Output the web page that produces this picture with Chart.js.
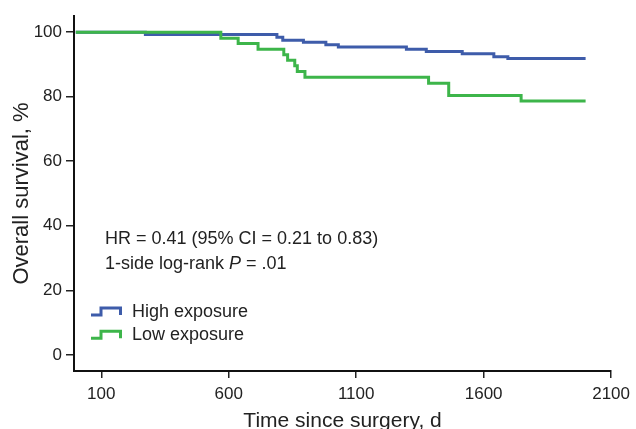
<!DOCTYPE html>
<html><head><meta charset="utf-8">
<script src="https://cdn.jsdelivr.net/npm/chart.js@4.4.1/dist/chart.umd.min.js"></script>
<style>html,body{margin:0;padding:0;background:#fff}canvas{display:block}</style>
</head><body>
<canvas id="c" width="636" height="429"></canvas>
<script>
const seriesNames = ['High exposure', 'Low exposure'];
const highTimes = [0, 273, 789, 812, 893, 981, 1030, 1297, 1375, 1516, 1640, 1695, 2000];
const highSurv  = [100, 99.3, 98.4, 97.5, 96.9, 96.1, 95.4, 94.7, 94.0, 93.3, 92.4, 91.8, 91.8];
const lowTimes  = [0, 569, 637, 715, 816, 831, 859, 869, 899, 1384, 1463, 1747, 2000];
const lowSurv   = [100, 98.1, 96.5, 94.7, 93.0, 91.3, 89.6, 87.8, 86.0, 84.2, 80.4, 78.7, 78.7];
const xTicks = [100, 600, 1100, 1600, 2100];
const yTicks = [0, 20, 40, 60, 80, 100];
const xTitle = 'Time since surgery, d';
const yTitle = 'Overall survival, %';
const annotLine1 = 'HR = 0.41 (95% CI = 0.21 to 0.83)';
const annotLine2 = ['1-side log-rank ', 'P', ' = .01'];

const FONT = '"Liberation Sans", Arial, Helvetica, sans-serif';
const TXT = '#222';
const colors = ['#3E5CAA', '#3DB54A'];
Chart.defaults.font.family = FONT;

function toPts(ts, vs) { return ts.map((t, i) => ({x: t, y: vs[i]})); }

const overlay = {
  id: 'overlay',
  afterDatasetsDraw(chart) {
    const {ctx, chartArea: a} = chart;
    ctx.save();
    ctx.fillStyle = TXT;
    ctx.textAlign = 'left';
    ctx.textBaseline = 'alphabetic';
    ctx.font = '18px ' + FONT;
    const ax = a.left + 31;
    ctx.fillText(annotLine1, ax, a.top + 228);
    let x = ax;
    const y2 = a.top + 253;
    annotLine2.forEach((s, i) => {
      ctx.font = (i === 1 ? 'italic ' : '') + '18px ' + FONT;
      ctx.fillText(s, x, y2);
      x += ctx.measureText(s).width;
    });
    // legend
    chart.data.datasets.forEach((ds, i) => {
      const base = a.top + 300.5 + i * 23.3;
      const lx = a.left + 17;
      ctx.strokeStyle = ds.borderColor;
      ctx.lineWidth = 3;
      ctx.lineJoin = 'miter';
      ctx.lineCap = 'butt';
      ctx.beginPath();
      ctx.moveTo(lx, base - 1.5);
      ctx.lineTo(lx + 10, base - 1.5);
      ctx.lineTo(lx + 10, base - 8.5);
      ctx.lineTo(lx + 29.5, base - 8.5);
      ctx.lineTo(lx + 29.5, base - 1.5);
      ctx.stroke();
      ctx.font = '18px ' + FONT;
      ctx.fillStyle = TXT;
      ctx.fillText(ds.label, a.left + 58, base);
    });
    ctx.restore();
  }
};

new Chart(document.getElementById('c'), {
  type: 'line',
  data: {
    datasets: [
      {label: seriesNames[0], data: toPts(highTimes, highSurv), borderColor: colors[0], borderWidth: 3, stepped: 'before', pointRadius: 0, fill: false, order: 1},
      {label: seriesNames[1], data: toPts(lowTimes, lowSurv), borderColor: colors[1], borderWidth: 3, stepped: 'before', pointRadius: 0, fill: false, order: 0}
    ]
  },
  options: {
    responsive: false,
    animation: false,
    devicePixelRatio: 1,
    layout: {padding: {top: 16, right: 24, bottom: 0, left: 0}},
    plugins: {legend: {display: false}, tooltip: {enabled: false}},
    scales: {
      x: {
        type: 'linear', min: -7, max: 2100,
        afterBuildTicks: s => { s.ticks = xTicks.map(v => ({value: v})); },
        afterFit: s => { s.height = 58; },
        ticks: {color: TXT, font: {size: 17}, padding: 6, autoSkip: false, maxRotation: 0, callback: v => String(v)},
        grid: {drawOnChartArea: false, drawTicks: true, tickLength: 7, tickColor: '#222', lineWidth: 1.5},
        border: {display: true, color: '#111', width: 2},
        title: {display: true, text: xTitle, color: TXT, font: {size: 21}, padding: {top: 0, bottom: -5}}
      },
      y: {
        type: 'linear', min: -5, max: 105,
        afterBuildTicks: s => { s.ticks = yTicks.map(v => ({value: v})); },
        afterFit: s => { s.width = 74; },
        ticks: {color: TXT, font: {size: 17}, padding: 4, callback: v => String(v)},
        grid: {drawOnChartArea: false, drawTicks: true, tickLength: 8, tickColor: '#222', lineWidth: 1.5},
        border: {display: true, color: '#111', width: 2},
        title: {display: true, text: yTitle, color: TXT, font: {size: 22}, padding: {top: 9, bottom: 0}}
      }
    }
  },
  plugins: [overlay]
});
</script>
</body></html>
